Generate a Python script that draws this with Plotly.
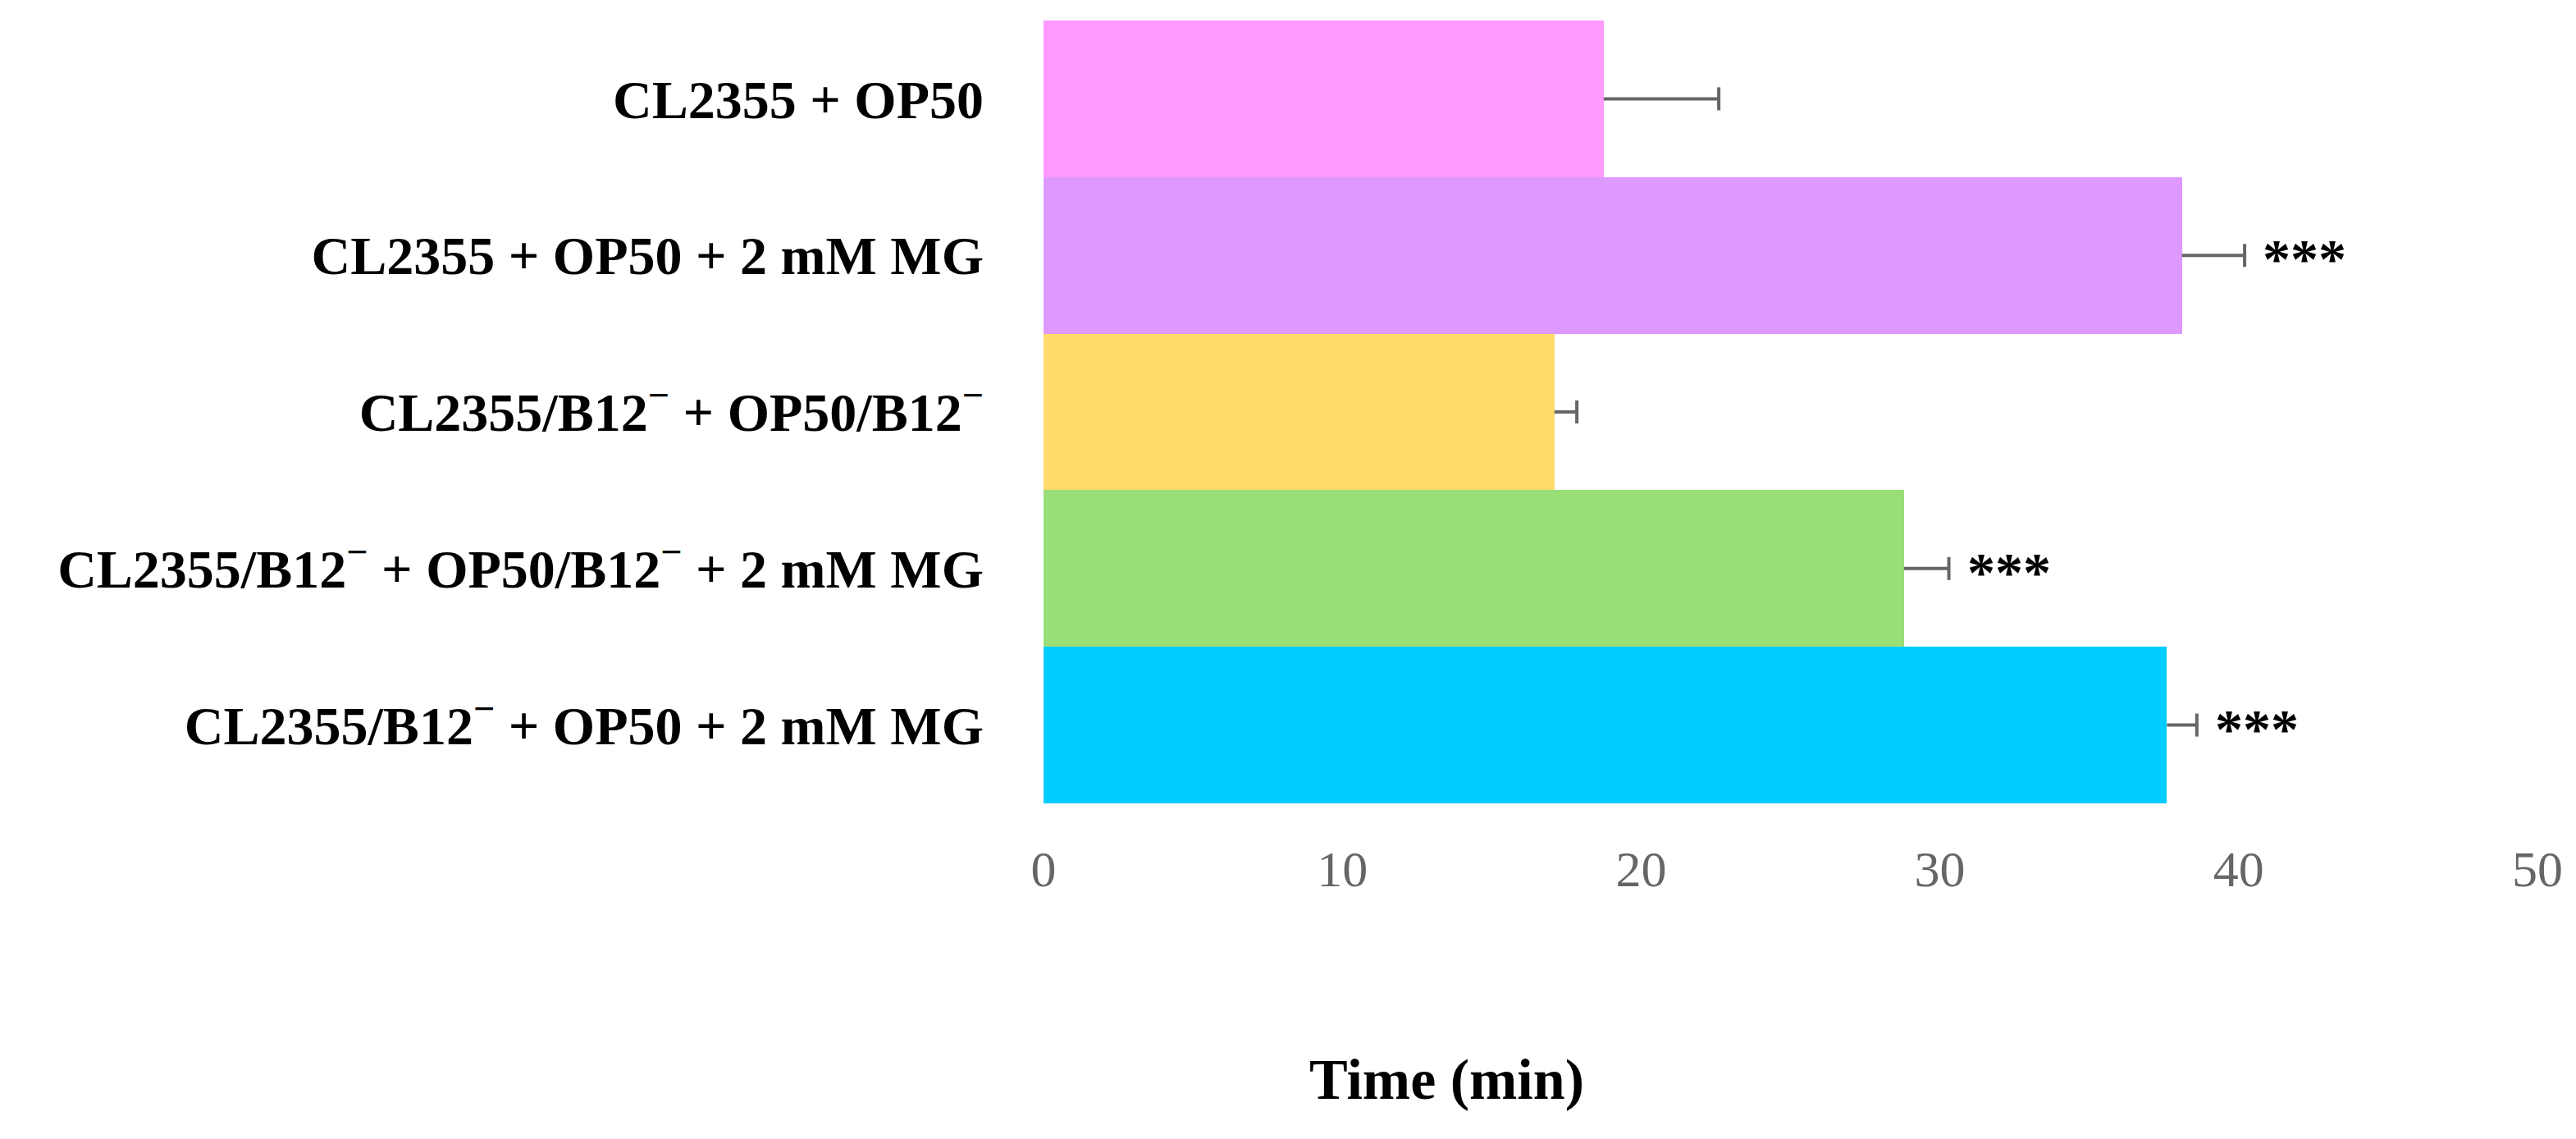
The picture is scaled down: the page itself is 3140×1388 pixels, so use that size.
import plotly.graph_objects as go

categories = [
    "CL2355 + OP50",
    "CL2355 + OP50 + 2 mM MG",
    "CL2355/B12<sup>−</sup> + OP50/B12<sup>−</sup>",
    "CL2355/B12<sup>−</sup> + OP50/B12<sup>−</sup> + 2 mM MG",
    "CL2355/B12<sup>−</sup> + OP50 + 2 mM MG",
]
times = [18.75, 38.1, 17.1, 28.8, 37.6]
errors = [3.85, 2.1, 0.75, 1.5, 1.0]
signif = ["", "***", "", "***", "***"]
colors = ["#FF99FF", "#DD99FF", "#FFDB6B", "#99DE76", "#00CCFF"]
x_ticks = [0, 10, 20, 30, 40, 50]

FONT = "Liberation Serif"
ERR_COLOR = "#666666"

fig = go.Figure()
fig.add_trace(go.Bar(
    y=categories, x=times, orientation="h",
    marker=dict(color=colors, line=dict(width=0)),
    width=1.0, showlegend=False, hoverinfo="skip",
))
# one-sided error bars: line from bar end to value+err, cap marker at the end
fig.add_trace(go.Scatter(
    y=categories, x=[t + e for t, e in zip(times, errors)],
    mode="markers",
    marker=dict(symbol="line-ns-open", size=20, line=dict(width=4, color=ERR_COLOR), color=ERR_COLOR),
    error_x=dict(type="data", symmetric=False, array=[0] * len(errors), arrayminus=errors,
                 color=ERR_COLOR, thickness=4, width=0),
    showlegend=False, hoverinfo="skip",
))

for cat, t, e, s in zip(categories, times, errors, signif):
    if s:
        fig.add_annotation(x=t + e, y=cat, text="<b>" + s + "</b>", showarrow=False,
                           xanchor="left", yanchor="middle", xshift=20, yshift=-4,
                           font=dict(family=FONT, size=68, color="black"))

fig.add_annotation(x=0.27, y=-0.353, xref="paper", yref="paper", text="<b>Time (min)</b>",
                   showarrow=False, xanchor="center", yanchor="middle",
                   font=dict(family=FONT, size=70, color="black"))

fig.update_layout(
    width=3140, height=1388,
    margin=dict(l=1272, r=47, t=25, b=409),
    paper_bgcolor="white", plot_bgcolor="white",
    bargap=0,
    xaxis=dict(range=[0, 50], tickvals=x_ticks, ticktext=[str(v) for v in x_ticks],
               showgrid=False, zeroline=False, showline=False, ticks="",
               ticklabelstandoff=38,
               tickfont=dict(family=FONT, size=62, color="#666666")),
    yaxis=dict(autorange="reversed", showgrid=False, zeroline=False, showline=False, ticks="",
               ticklabelstandoff=72,
               tickfont=dict(family=FONT, size=66, color="black", weight="bold")),
    font=dict(family=FONT),
)

fig.write_html("out.html")
